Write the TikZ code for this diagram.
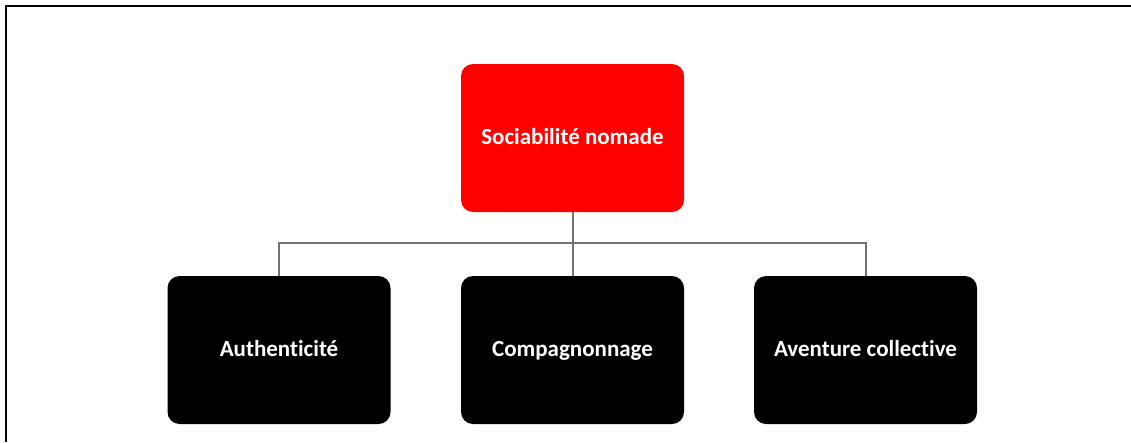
\documentclass[tikz,border=0pt]{standalone}
\usepackage{fontspec}
\setmainfont[Ligatures={NoCommon}]{Carlito}
\begin{document}
\begin{tikzpicture}[x=1pt,y=-1pt,
  boxbase/.style={rounded corners=12pt, minimum width=223pt, minimum height=148pt, inner sep=0pt, text height=17.25pt, text depth=5.25pt, text=white, font=\bfseries\fontsize{23}{27}\selectfont},
  redbox/.style={boxbase, fill=red},
  blackbox/.style={boxbase, fill=black},
  link/.style={draw=black!55, line width=2pt}]
\useasboundingbox (0,0) rectangle (1131,442);
\draw[line width=2.2pt] (6,442) -- (6,6) -- (1131,6);
\node[redbox] (root) at (572.5,138) {Sociabilité nomade};
\node[blackbox] (a) at (279,350) {Authenticité};
\node[blackbox] (b) at (572.5,350) {Compagnonnage};
\node[blackbox] (c) at (865.5,350) {Aventure collective};
\coordinate (bar) at (572.5,243);
\draw[link] (root.south) -- (bar);
\draw[link] (a.north) -- (a.north |- bar) -- (c.north |- bar) -- (c.north);
\draw[link] (bar) -- (b.north);
\end{tikzpicture}
\end{document}
